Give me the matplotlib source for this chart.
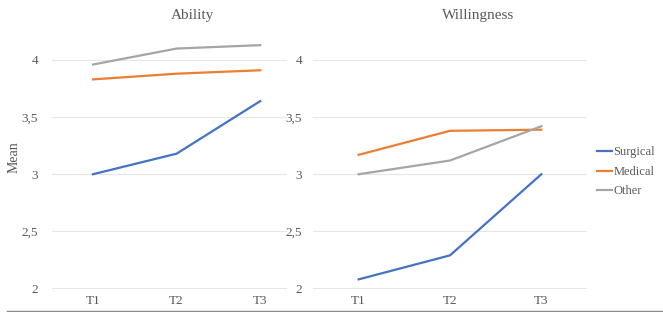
import matplotlib.pyplot as plt
from matplotlib.lines import Line2D

plt.rcParams['font.family'] = ['Liberation Serif', 'DejaVu Serif']

times = ['T1', 'T2', 'T3']
groups = ['Surgical', 'Medical', 'Other']
colors = ['#4472C4', '#ED7D31', '#A5A5A5']

ability = {
    'Surgical': [3.0, 3.18, 3.64],
    'Medical': [3.83, 3.88, 3.91],
    'Other': [3.96, 4.10, 4.13],
}
willingness = {
    'Surgical': [2.08, 2.29, 3.0],
    'Medical': [3.17, 3.38, 3.39],
    'Other': [3.0, 3.12, 3.42],
}
yticks = [2, 2.5, 3, 3.5, 4]
ytick_labels = ['2', '2,5', '3', '3,5', '4']

W, H = 663, 312
fig = plt.figure(figsize=(W / 100, H / 100), dpi=100)
txt = '#595959'

def px_axes(x0, x1, ybot, ytop):
    return fig.add_axes([x0 / W, (H - ybot) / H, (x1 - x0) / W, (ybot - ytop) / H])

ax_a = px_axes(52, 287, 288.5, 25.7)
ax_w = px_axes(313, 587, 288.5, 25.7)

for ax, data, xlim, pad in [(ax_a, ability, (-0.49, 2.32), 10), (ax_w, willingness, (-0.5, 2.5), 8)]:
    x = range(len(times))
    for g, c in zip(groups, colors):
        ax.plot(x, data[g], color=c, lw=1.6, label=g, clip_on=False)
    ax.set_xlim(*xlim)
    ax.set_ylim(2, 4.3)
    ax.set_yticks(yticks)
    ax.set_yticklabels(ytick_labels)
    ax.set_xticks(list(x))
    ax.set_xticklabels(times)
    ax.grid(axis='y', color='#e6e6e6', lw=0.8)
    ax.set_axisbelow(True)
    for s in ax.spines.values():
        s.set_visible(False)
    ax.tick_params(axis='y', length=0, pad=pad, labelsize=9.5, labelcolor=txt)
    ax.tick_params(axis='x', length=0, pad=5, labelsize=9.5, labelcolor=txt)

ax_a.set_ylabel('Mean', fontsize=10, color=txt, labelpad=1)

fig.text(192 / W, 1 - 16 / H, 'Ability', ha='center', va='center', fontsize=11, color=txt)
fig.text(478 / W, 1 - 16 / H, 'Willingness', ha='center', va='center', fontsize=11, color=txt)

handles = [Line2D([], [], color=c, lw=1.6) for c in colors]
fig.legend(handles, groups, loc='center left', bbox_to_anchor=(597 / W, 1 - 172 / H),
           frameon=False, fontsize=9, handlelength=1.2, handletextpad=0.1,
           labelspacing=0.6, labelcolor=txt, borderaxespad=0, borderpad=0)

fig.add_artist(Line2D([7 / W, 1], [1 - 310.5 / H] * 2, color='#8c8c8c', lw=1))

fig.savefig('out.png', dpi=100)
